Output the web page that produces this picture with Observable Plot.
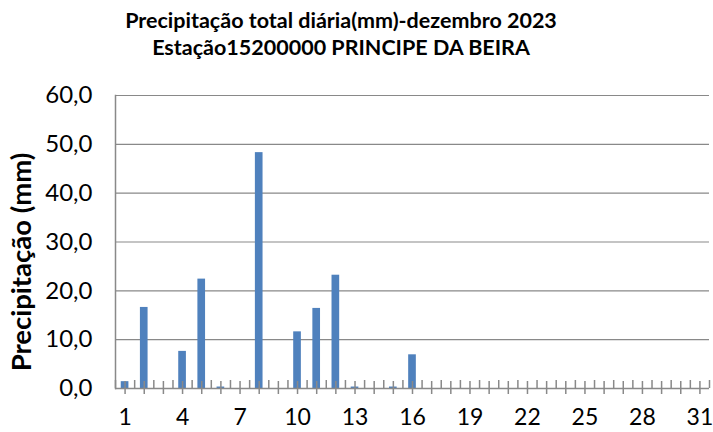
<!DOCTYPE html>
<html>
<head>
<meta charset="utf-8">
<script src="https://cdn.jsdelivr.net/npm/d3@7"></script>
<script src="https://cdn.jsdelivr.net/npm/@observablehq/plot@0.6"></script>
<style>
  html, body { margin: 0; padding: 0; background: #fff; }
  #wrap { position: relative; width: 713px; height: 432px; font-family: Lato, "Open Sans", sans-serif; }
  .title { position: absolute; left: 0; width: 682px; text-align: center; font-weight: bold; font-size: 21.5px; line-height: 26px; color: #000; white-space: nowrap; z-index: 2; }
  #chart { position: absolute; left: 0; top: 0; z-index: 1; }
</style>
</head>
<body>
<div id="wrap">
  <div id="chart"></div>
  <div class="title" style="top:7px">Precipitação total diária(mm)-dezembro 2023</div>
  <div class="title" style="top:34px">Estação15200000 PRINCIPE DA BEIRA</div>
</div>
<script>
const days = [1,2,3,4,5,6,7,8,9,10,11,12,13,14,15,16,17,18,19,20,21,22,23,24,25,26,27,28,29,30,31];
const precip = [1.4,16.6,0,7.6,22.4,0.3,0,48.3,0,11.6,16.4,23.2,0.3,0,0.3,6.9,0,0,0,0,0,0,0,0,0,0,0,0,0,0,0];
const xLabels = [1,4,7,10,13,16,19,22,25,28,31];
const yTicks = [0,10,20,30,40,50,60];
const yTitle = "Precipitação (mm)";

const data = days.map((d, i) => ({day: d, value: precip[i]}));
const boundaries = [days[0] - 0.5, ...days.map(d => d + 0.5)];
const half = 0.2;
const grey = "#898989";

const chart = Plot.plot({
  width: 713,
  height: 432,
  marginLeft: 115,
  marginRight: 4,
  marginTop: 95,
  marginBottom: 44,
  style: {fontFamily: "Lato, 'Open Sans', sans-serif", color: "#000", background: "transparent"},
  x: {type: "linear", domain: [0.5, 31.5], label: null},
  y: {domain: [0, 60], label: null},
  marks: [
    Plot.gridY(yTicks.filter(t => t > 0), {stroke: grey, strokeOpacity: 1, strokeWidth: 1.2}),
    Plot.rectY(data, {x1: d => d.day - half, x2: d => d.day + half, y: "value", fill: "#4F81BD"}),
    Plot.ruleY([0], {stroke: grey, strokeWidth: 1.5}),
    Plot.frame({anchor: "left", stroke: grey, strokeWidth: 1.5}),
    Plot.axisX({ticks: days, tickSize: 13, dy: -7, tickFormat: () => "", stroke: grey, strokeWidth: 1.5}),
    Plot.axisX({ticks: boundaries, tickSize: 8, dy: -8, tickFormat: () => "", stroke: grey, strokeWidth: 1.5}),
    Plot.axisX({ticks: xLabels, tickSize: 0, tickPadding: 20, fontSize: 23, tickFormat: d => String(d)}),
    Plot.axisY({ticks: yTicks, tickSize: 0, tickPadding: 23, fontSize: 24,
      tickFormat: d => d.toFixed(1).replace(".", ","), label: null}),
    Plot.text([yTitle], {frameAnchor: "left", rotate: -90, dx: -93, dy: 20, fontSize: 27.5,
      fontWeight: "bold", fill: "#000", textAnchor: "middle", lineAnchor: "middle"})
  ]
});
document.getElementById("chart").appendChild(chart);
</script>
</body>
</html>
